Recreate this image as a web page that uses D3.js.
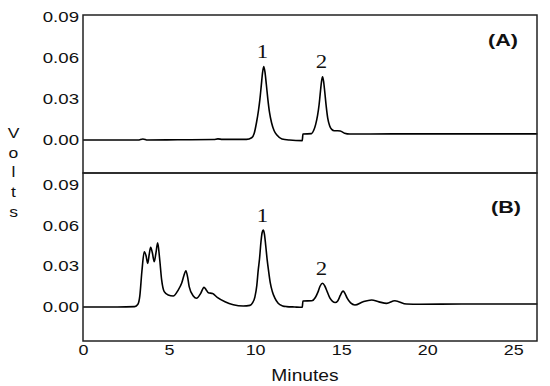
<!DOCTYPE html>
<html>
<head>
<meta charset="utf-8">
<script src="https://cdn.jsdelivr.net/npm/d3@7"></script>
<style>
  body { margin: 0; background: #fff; }
  svg { display: block; font-family: "Liberation Sans", Arial, sans-serif; }
</style>
</head>
<body>
<svg width="550" height="386"></svg>
<script>
// chromatogram data (minutes, volts)
const timesA = [0, 1.5, 3.2, 3.48, 3.75, 5.5, 7.6, 7.84, 8.1, 9.5, 9.8, 9.95, 10.09, 10.2, 10.28, 10.36,
  10.43, 10.5, 10.57, 10.65, 10.74, 10.84, 10.96, 11.1, 11.28, 11.56, 12.0, 12.74, 12.78, 13.28, 13.4,
  13.52, 13.63, 13.72, 13.8, 13.86, 13.92, 13.98, 14.05, 14.13, 14.22, 14.33, 14.45, 14.6, 14.8, 14.95,
  15.2, 15.5, 18, 22, 26.4];
const voltsA = [0, 0, 0, 0.0008, 0, 0.0002, 0.0004, 0.0009, 0.0005, 0.0005, 0.0017, 0.005, 0.0134, 0.022, 0.030, 0.040,
  0.049, 0.0537, 0.050, 0.041, 0.030, 0.020, 0.0125, 0.007, 0.0035, 0.0008, 0, -0.0004, 0.0044, 0.0047, 0.007,
  0.0115, 0.018, 0.026, 0.036, 0.043, 0.0463, 0.043, 0.035, 0.025, 0.016, 0.0105, 0.0078, 0.0068, 0.0068, 0.0066,
  0.005, 0.0044, 0.0045, 0.0045, 0.0045];

const timesB = [0, 2, 3.0, 3.19, 3.3, 3.42, 3.56, 3.66, 3.76, 3.85, 3.93, 4.03, 4.14, 4.24, 4.34, 4.45,
  4.57, 4.72, 4.95, 5.24, 5.53, 5.73, 5.86, 5.98, 6.08, 6.17, 6.41, 6.6, 6.84, 7.03, 7.15, 7.28, 7.53,
  7.8, 8.25, 8.73, 9.31, 9.7, 9.85, 9.99, 10.1, 10.18, 10.26, 10.34, 10.41, 10.47, 10.54, 10.62, 10.7,
  10.78, 10.88, 11.0, 11.15, 11.34, 11.6, 11.83, 12.3, 12.74, 12.78, 13.3, 13.5, 13.65, 13.78, 13.92,
  14.05, 14.2, 14.35, 14.5, 14.65, 14.8, 14.95, 15.05, 15.12, 15.22, 15.35, 15.55, 15.8, 16.28,
  16.77, 17.2, 17.64, 18.12, 18.8, 19.57, 22, 26.4];
const voltsB = [0, 0, 0.0003, 0.002, 0.008, 0.026, 0.0408, 0.038, 0.0322, 0.039, 0.044, 0.040, 0.0334, 0.040, 0.0474, 0.036,
  0.02, 0.0113, 0.0088, 0.0081, 0.0125, 0.0175, 0.023, 0.0268, 0.022, 0.015, 0.0081, 0.0064, 0.0101, 0.0145, 0.0128, 0.0105, 0.010,
  0.0071, 0.0039, 0.0017, 0.0007, 0.0012, 0.003, 0.0075, 0.016, 0.027, 0.036, 0.048, 0.055, 0.0567, 0.054, 0.045, 0.035,
  0.027, 0.018, 0.0115, 0.0065, 0.0027, 0.0008, 0.0003, 0, -0.0002, 0.0044, 0.0046, 0.007, 0.011, 0.0155, 0.0175,
  0.0155, 0.011, 0.0065, 0.0042, 0.0033, 0.0045, 0.0085, 0.011, 0.0118, 0.010, 0.0065, 0.003, 0.0015, 0.0039,
  0.0052, 0.0038, 0.0027, 0.0046, 0.0022, 0.002, 0.0022, 0.0022];

const peakNames = ["1", "2"];
const peakTimes = [10.48, 13.92];
const panelNames = ["(A)", "(B)"];
const xTicks = [0, 5, 10, 15, 20, 25];
const yTicks = [0, 0.03, 0.06, 0.09];

const svg = d3.select("svg");
const left = 83, right = 537;

const x = d3.scaleLinear().domain([0, 26.38]).range([left, right]);

const panels = [
  { name: panelNames[0], t: timesA, v: voltsA, y: d3.scaleLinear().domain([-0.0241, 0.0915]).range([173, 15]), top: 15, bottom: 173, lx: 518, ly: 46 },
  { name: panelNames[1], t: timesB, v: voltsB, y: d3.scaleLinear().domain([-0.0251, 0.0989]).range([341, 173]), top: 173, bottom: 341, lx: 521, ly: 213 }
];

// the source figure is stretched sideways, so widen every text a bit
function stretch(sel, k){
  sel.each(function(){
    const w = this.getComputedTextLength();
    d3.select(this).attr("textLength", w * k).attr("lengthAdjust", "spacingAndGlyphs");
  });
}

panels.forEach(p => {
  const pts = p.t.map((t, i) => [t, p.v[i]]);

  const line = d3.line()
    .x(d => x(d[0]))
    .y(d => p.y(d[1]))
    .curve(d3.curveMonotoneX);

  svg.append("path")
    .datum(pts)
    .attr("fill", "none")
    .attr("stroke", "#000")
    .attr("stroke-width", 1.6)
    .attr("stroke-linejoin", "round")
    .attr("d", line);

  svg.append("rect")
    .attr("x", left).attr("y", p.top)
    .attr("width", right - left).attr("height", p.bottom - p.top)
    .attr("fill", "none")
    .attr("stroke", "#222")
    .attr("stroke-width", 1.5);

  const ax = svg.append("g")
    .attr("transform", `translate(${left},0)`)
    .call(d3.axisLeft(p.y).tickValues(yTicks).tickSize(0).tickPadding(4).tickFormat(d3.format(".2f")));
  ax.select(".domain").remove();
  ax.selectAll("text")
    .attr("font-family", "Liberation Sans, Arial, sans-serif")
    .attr("font-size", 14)
    .attr("fill", "#111")
    .call(stretch, 1.33);

  // peak numbers sit just above each peak's top
  peakNames.forEach((nm, i) => {
    const pt = peakTimes[i];
    let best = 0;
    pts.forEach(d => { if (Math.abs(d[0] - pt) < 0.3 && d[1] > best) best = d[1]; });
    svg.append("text")
      .attr("x", x(pt) - 1)
      .attr("y", p.y(best) - 8.5)
      .attr("text-anchor", "middle")
      .attr("font-family", "Liberation Serif, Times New Roman, serif")
      .attr("font-size", 19)
      .attr("fill", "#111")
      .text(nm)
      .call(stretch, 1.2);
  });

  svg.append("text")
    .attr("x", p.lx)
    .attr("y", p.ly)
    .attr("text-anchor", "end")
    .attr("font-size", 17)
    .attr("font-weight", "bold")
    .attr("fill", "#111")
    .text(p.name)
    .call(stretch, 1.27);
});

const xa = svg.append("g")
  .attr("transform", "translate(0,341)")
  .call(d3.axisBottom(x).tickValues(xTicks).tickSize(0).tickPadding(4).tickFormat(d3.format("d")));
xa.select(".domain").remove();
xa.selectAll("text")
  .attr("font-family", "Liberation Sans, Arial, sans-serif")
  .attr("font-size", 14)
  .attr("fill", "#111")
  .call(stretch, 1.28);

svg.append("text")
  .attr("x", 305)
  .attr("y", 381)
  .attr("text-anchor", "middle")
  .attr("font-size", 16)
  .attr("fill", "#111")
  .text("Minutes")
  .call(stretch, 1.2);

// vertical "Volts", one letter per line
const volts = "Volts".split("");
const letterY = d3.scalePoint().domain(d3.range(volts.length)).range([138, 216.5]);
svg.selectAll(".vlabel")
  .data(volts)
  .join("text")
  .attr("class", "vlabel")
  .attr("x", 13.5)
  .attr("y", (d, i) => letterY(i))
  .attr("text-anchor", "middle")
  .attr("font-size", 14)
  .attr("fill", "#111")
  .text(d => d)
  .call(stretch, 1.25);
</script>
</body>
</html>
